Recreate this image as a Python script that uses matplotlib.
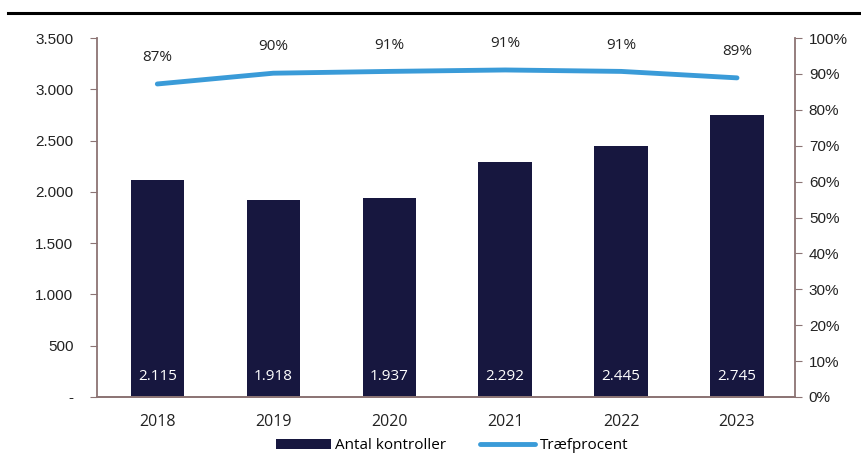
import matplotlib as mpl
mpl.use('Agg')
import matplotlib.pyplot as plt
from matplotlib.lines import Line2D
from matplotlib.ticker import FuncFormatter, MultipleLocator

years = ['2018', '2019', '2020', '2021', '2022', '2023']
kontroller = [2115, 1918, 1937, 2292, 2445, 2745]
traef = [0.872, 0.902, 0.907, 0.911, 0.907, 0.889]
traef_labels = ['87%', '90%', '91%', '91%', '91%', '89%']

bar_col = '#17173f'
line_col = '#3a9bd8'
spine_col = '#8c7474'
txt_font = 'Open Sans'

def thousands(v, pos):
    if v == 0:
        return '-'
    return '{:,.0f}'.format(v).replace(',', '.')

def main():
    fig = plt.figure(figsize=(8.61, 4.57), dpi=100)
    ax = fig.add_axes([0.1127, 0.1313, 0.8106, 0.7855])
    ax2 = ax.twinx()

    x = list(range(len(years)))
    bars = ax.bar(x, kontroller, width=0.46, color=bar_col, label='Antal kontroller', zorder=2)
    for xi, v in zip(x, kontroller):
        ax.text(xi, 200, thousands(v, None), color='white', ha='center', va='center',
                fontsize=11, family=txt_font, zorder=3)

    ax2.plot(x, traef, color=line_col, lw=3.5, solid_capstyle='round', label='Træfprocent', zorder=3)
    for xi, v, lab in zip(x, traef, traef_labels):
        ax2.annotate(lab, (xi, v), xytext=(0, 19), textcoords='offset points', ha='center',
                     va='center', fontsize=11, family=txt_font, color='#222222')

    ax.set_xlim(-0.52, 5.5)
    ax.set_ylim(0, 3500)
    ax2.set_ylim(0, 1.0)
    ax.yaxis.set_major_locator(MultipleLocator(500))
    ax.yaxis.set_major_formatter(FuncFormatter(thousands))
    ax2.yaxis.set_major_locator(MultipleLocator(0.1))
    ax2.yaxis.set_major_formatter(FuncFormatter(lambda v, p: '{:.0f}%'.format(v * 100)))

    ax.set_xticks(x)
    ax.set_xticklabels(years, family=txt_font, fontsize=11.5, color='#222222')
    ax.tick_params(axis='x', length=0, pad=12)
    ax.tick_params(axis='y', length=5, color=spine_col, labelsize=11, labelcolor='#222222', pad=12)
    ax2.tick_params(axis='y', length=5, color=spine_col, labelsize=11, labelcolor='#222222', pad=5)
    for t in ax.get_yticklabels() + ax2.get_yticklabels():
        t.set_family('Liberation Sans')

    for a in (ax, ax2):
        a.spines['top'].set_visible(False)
        for s in ('left', 'right', 'bottom'):
            a.spines[s].set_color(spine_col)
            a.spines[s].set_linewidth(1.3)
    ax.spines['right'].set_visible(False)
    ax2.spines['left'].set_visible(False)

    handles = [bars, Line2D([0], [0], color=line_col, lw=3.5, solid_capstyle='round')]
    fig.legend(handles, ['Antal kontroller', 'Træfprocent'], loc='center', ncol=2,
               bbox_to_anchor=(0.525, 0.025), frameon=False, handlelength=3.6, handleheight=0.6,
               columnspacing=2.2, handletextpad=0.3, prop={'family': txt_font, 'size': 11})

    # rule under the (cropped) heading
    fig.add_artist(Line2D([0.009, 1.0], [0.972, 0.972], color='black', lw=2.2,
                          transform=fig.transFigure))

    fig.savefig('out.png', dpi=100)

if __name__ == '__main__':
    main()
